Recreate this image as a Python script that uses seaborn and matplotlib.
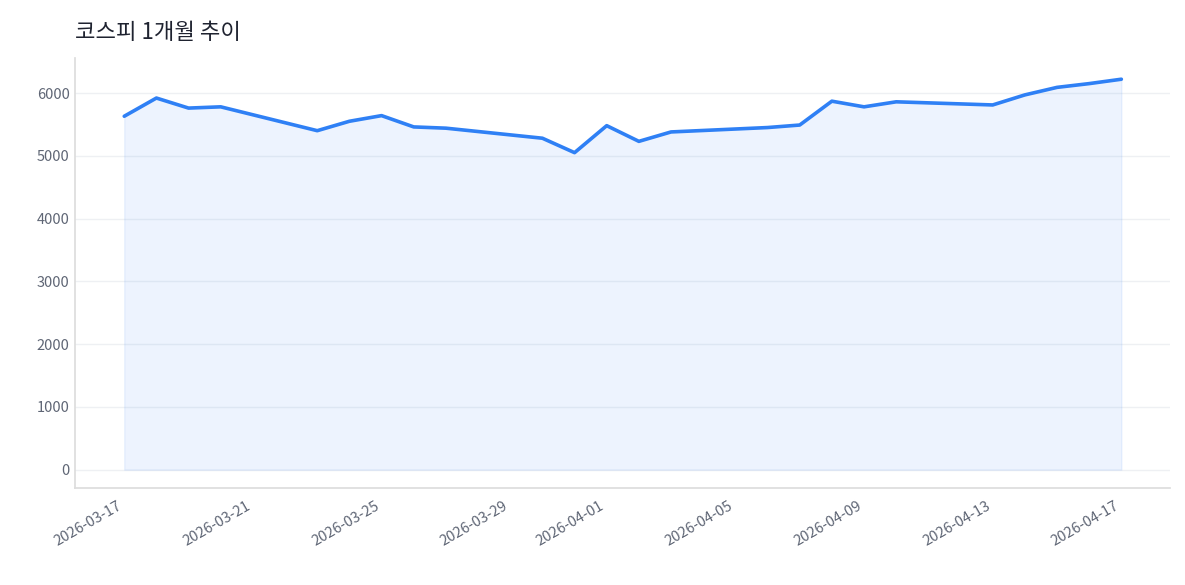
import matplotlib
matplotlib.use("Agg")
import matplotlib.pyplot as plt
import matplotlib.dates as mdates
import seaborn as sns
import pandas as pd

dates = ["2026-03-17","2026-03-18","2026-03-19","2026-03-20","2026-03-23","2026-03-24",
         "2026-03-25","2026-03-26","2026-03-27","2026-03-30","2026-03-31","2026-04-01",
         "2026-04-02","2026-04-03","2026-04-06","2026-04-07","2026-04-08","2026-04-09",
         "2026-04-10","2026-04-13","2026-04-14","2026-04-15","2026-04-16","2026-04-17"]
values = [5630,5920,5760,5780,5400,5550,5640,5460,5440,5280,5050,5480,
          5230,5380,5450,5490,5870,5780,5860,5810,5970,6090,6150,6220]
tick_dates = ["2026-03-17","2026-03-21","2026-03-25","2026-03-29","2026-04-01",
              "2026-04-05","2026-04-09","2026-04-13","2026-04-17"]

df = pd.DataFrame({"date": pd.to_datetime(dates), "value": values})

sns.set_theme(style="white")
plt.rcParams['font.family'] = ['Noto Sans CJK KR', 'DejaVu Sans']

fig, ax = plt.subplots(figsize=(11.85, 5.85), dpi=100)
fig.subplots_adjust(left=0.063, right=0.987, top=0.9, bottom=0.165)
ax.fill_between(df["date"], df["value"], 0, color="#3b82f6", alpha=0.09)
sns.lineplot(data=df, x="date", y="value", ax=ax, color="#2f80f5", linewidth=2.6)

ax.set_ylim(-300, 6550)
ax.set_yticks([0,1000,2000,3000,4000,5000,6000])
ax.set_xticks(pd.to_datetime(tick_dates))
ax.xaxis.set_major_formatter(mdates.DateFormatter("%Y-%m-%d"))
ax.set_xlim(pd.Timestamp("2026-03-15 11:00"), pd.Timestamp("2026-04-18 12:00"))
plt.setp(ax.get_xticklabels(), rotation=30, ha="right")
ax.tick_params(colors="#5f6675", labelsize=10.5)
ax.tick_params(axis="x", length=4, color="#cccccc")
ax.tick_params(axis="y", length=0)
ax.grid(axis="y", color="#eef0f3", linewidth=1)
ax.set_xlabel("")
ax.set_ylabel("")
for s in ["top", "right"]:
    ax.spines[s].set_visible(False)
for s in ["left", "bottom"]:
    ax.spines[s].set_color("#dddddd")
ax.set_title("코스피 1개월 추이", loc="left", fontsize=16, color="#1f2330", pad=14, fontweight="medium")
fig.savefig("out.png")
